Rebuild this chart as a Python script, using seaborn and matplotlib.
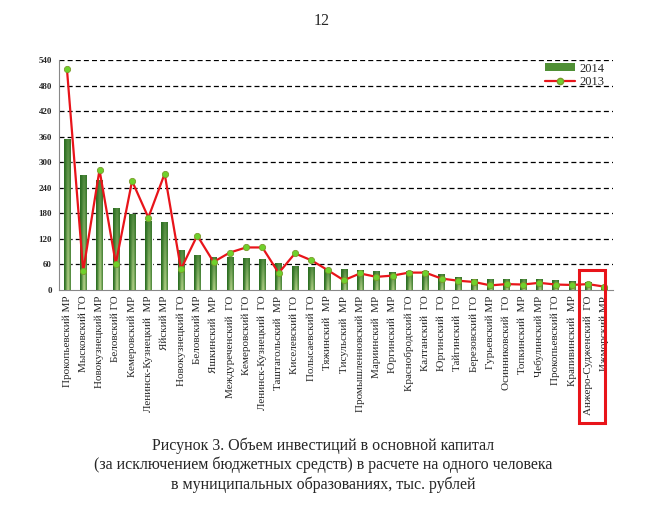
import numpy as np
import matplotlib
matplotlib.use("Agg")
import matplotlib.pyplot as plt
import seaborn as sns
from matplotlib.lines import Line2D
from matplotlib.patches import Rectangle
from matplotlib.transforms import blended_transform_factory

# -----------------------------
# Data
# -----------------------------
districts = [
    "Прокопьевский МР", "Мысковский ГО", "Новокузнецкий МР", "Беловский ГО",
    "Кемеровский МР", "Ленинск-Кузнецкий  МР", "Яйский МР", "Новокузнецкий ГО",
    "Беловский МР", "Яшкинский  МР", "Междуреченский  ГО", "Кемеровский ГО",
    "Ленинск-Кузнецкий  ГО", "Таштагольский  МР", "Киселевский ГО",
    "Полысаевский ГО", "Тяжинский  МР", "Тисульский  МР", "Промышленновский МР",
    "Мариинский  МР", "Юргинский  МР", "Краснобродский ГО", "Калтанский  ГО",
    "Юргинский  ГО", "Тайгинский  ГО", "Березовский ГО", "Гурьевский МР",
    "Осинниковский  ГО", "Топкинский  МР", "Чебулинский МР", "Прокопьевский ГО",
    "Крапивинский  МР", "Анжеро-Судженский  ГО", "Ижморский МР",
]
inv_2014 = [355, 270, 258, 193, 179, 162, 160, 94, 82, 77, 77, 75, 73, 63, 56, 54, 49,
            49, 46, 45, 42, 45, 45, 37, 30, 27, 27, 27, 27, 25, 23, 21, 20, 8]
inv_2013 = [519, 45, 282, 62, 256, 170, 273, 49, 128, 66, 88, 100, 100, 40, 86, 70, 47,
            23, 39, 31, 34, 41, 41, 27, 22, 19, 11, 14, 13, 17, 13, 12, 14, 8]
y_ticks = list(range(0, 541, 60))
highlight = "Анжеро-Судженский  ГО"

caption = ("Рисунок 3. Объем инвестиций в основной капитал\n"
           "(за исключением бюджетных средств) в расчете на одного человека\n"
           "в муниципальных образованиях, тыс. рублей")

# -----------------------------
# Style
# -----------------------------
sns.set_style("white")
plt.rcParams["font.family"] = ["Liberation Serif", "DejaVu Serif"]

fig = plt.figure(figsize=(6.68, 5.08), dpi=100)
ax = fig.add_axes([0.088, 0.429, 0.829, 0.453])

# bars
sns.barplot(x=districts, y=inv_2014, color="#3f7f2a", width=0.4, ax=ax, zorder=3)

# gradient fill inside every bar
dark = np.array([0.10, 0.38, 0.08])
light = np.array([0.74, 0.85, 0.56])
gx = np.linspace(0, 1, 24)
gy = np.linspace(0, 1, 60)
hx = np.clip(1 - np.abs(gx - 0.6) * 2.0, 0, 1)
grad = np.zeros((60, 24, 3))
for i, t in enumerate(gy):
    w = np.clip(0.12 + 0.88 * (0.25 + 0.75 * t) * hx, 0, 1)  # t: 0 top -> 1 bottom
    grad[i] = dark * (1 - w)[:, None] + light * w[:, None]
for p in list(ax.patches):
    x0, y0 = p.get_x(), p.get_y()
    wdt, hgt = p.get_width(), p.get_height()
    im = ax.imshow(grad, extent=[x0, x0 + wdt, y0, y0 + hgt], aspect="auto",
                   origin="upper", zorder=3.5, interpolation="bilinear")
    im.set_clip_path(p)

# 2013 line
sns.pointplot(x=districts, y=inv_2013, color="#e8141a", errorbar=None, ax=ax,
              markers="o", linewidth=1.6, markersize=4.5,
              markerfacecolor="#6fd12c", markeredgecolor="#7a9a2a",
              markeredgewidth=0.6, zorder=5)

# axes
ax.set_xlim(-0.5, len(districts) - 0.5)
ax.set_ylim(0, 540)
ax.set_yticks(y_ticks)
ax.set_yticklabels([str(v) for v in y_ticks], fontsize=6.5, fontweight="bold")
for v in y_ticks[1:]:
    ax.axhline(v, color="black", lw=0.9, ls=(0, (4, 2.5)), zorder=1)

ax.set_xticks(range(len(districts)))
ax.set_xticklabels(districts, rotation=90, fontsize=8)
ax.set_xticks(np.arange(-0.5, len(districts), 1), minor=True)
ax.tick_params(axis="x", which="major", length=0, pad=4)
ax.tick_params(axis="x", which="minor", length=3, color="#888888", width=0.6)
ax.tick_params(axis="y", length=3, width=0.6, color="#888888", pad=2)
ax.set_xlabel("")
ax.set_ylabel("")

for s in ["top", "right"]:
    ax.spines[s].set_visible(False)
for s in ["left", "bottom"]:
    ax.spines[s].set_color("#888888")
    ax.spines[s].set_linewidth(0.8)

# legend
bar_handle = Rectangle((0, 0), 1, 1, facecolor="#4f8f35", edgecolor="none")
line_handle = Line2D([], [], color="#e8141a", lw=1.6, marker="o", markersize=4.5,
                     markerfacecolor="#6fd12c", markeredgecolor="#7a9a2a")
ax.legend([bar_handle, line_handle], ["2014", "2013"], loc="upper right",
          bbox_to_anchor=(0.998, 1.02), frameon=False, fontsize=9,
          handlelength=2.4, handleheight=0.6, labelspacing=0.1,
          borderaxespad=0.2, handletextpad=0.3)

# highlight box around one label
idx = districts.index(highlight)
tr = blended_transform_factory(ax.transData, fig.transFigure)
ax.add_patch(Rectangle((idx - 0.55, 1 - 423 / 508), 1.6, (423 - 270) / 508,
                       transform=tr, fill=False, edgecolor="#e8141a", lw=2.2,
                       clip_on=False, zorder=10))

# page number and caption
fig.text(322 / 668, 1 - 21 / 508, "12", ha="center", va="center", fontsize=11.5)
fig.text(323 / 668, 1 - 465 / 508, caption, ha="center", va="center",
         fontsize=11.5, linespacing=1.25)

fig.savefig("out.png", dpi=100)
